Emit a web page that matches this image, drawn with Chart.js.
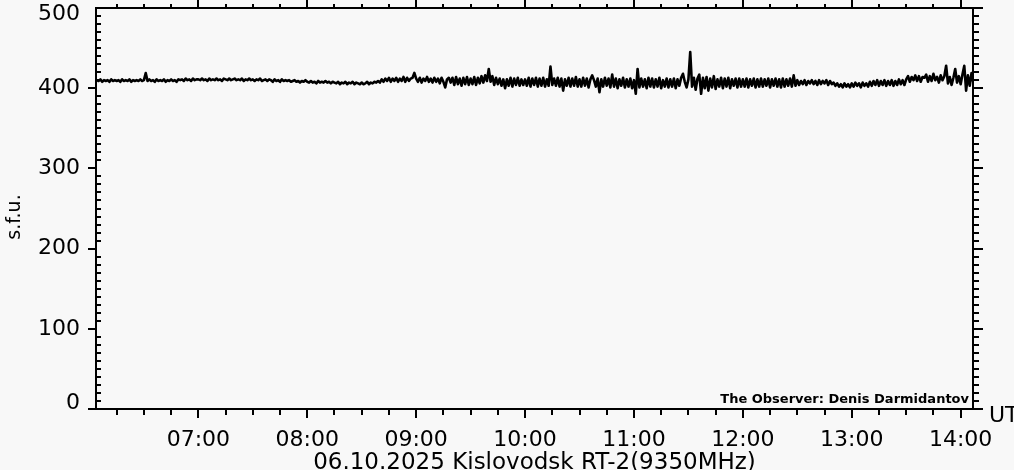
<!DOCTYPE html>
<html><head><meta charset="utf-8">
<script src="https://cdn.jsdelivr.net/npm/chart.js@4.4.1/dist/chart.umd.min.js"></script>
<style>html,body{margin:0;padding:0;background:#f8f8f8;overflow:hidden}canvas{display:block}</style>
</head><body>
<canvas id="c" width="1014" height="470"></canvas>
<script>
// Flux (s.f.u.), one value per minute, each array = one UT hour (minute 0..59)
const h06 = [410,409,410,408,410,409,411,408,410,409,
             410,408,411,409,410,409,410,408,411,409,
             410,409,411,408,410,409,410,409,411,409,
             410,419,409,411,409,410,408,411,409,410,
             409,411,408,410,409,411,409,410,408,411,
             410,411,409,412,410,411,409,412,410,411];
const h07 = [411,410,412,410,411,409,412,410,411,410,
             412,410,411,409,412,411,410,412,410,411,
             412,410,411,410,412,409,411,410,412,410,
             411,409,411,410,412,409,410,411,409,411,
             410,408,411,409,410,408,411,409,410,409,
             410,408,409,410,408,409,407,409,408,410];
const h08 = [408,407,409,407,408,406,409,407,408,407,
             409,407,408,406,408,407,406,408,405,407,
             406,408,405,407,406,408,405,407,406,405,
             407,405,406,408,405,407,406,408,407,409,
             407,411,408,412,409,413,408,412,409,413,
             408,412,409,414,408,413,409,412,413,419];
const h09 = [412,408,413,407,412,409,414,408,412,407,
             413,408,412,406,413,408,401,411,413,407,
             413,404,414,405,412,403,413,405,414,404,
             412,405,414,404,413,406,415,407,416,409,
             424,408,415,404,413,405,412,403,411,400,
             411,403,413,402,412,404,413,403,411,404];
const h10 = [411,403,413,402,412,404,413,402,412,403,
             413,402,411,403,427,404,412,403,413,402,
             412,397,411,403,413,402,412,403,414,402,
             411,402,413,403,412,401,411,416,410,402,
             412,395,411,402,413,403,412,401,417,402,
             412,400,411,403,413,401,411,402,412,400];
const h11 = [410,393,424,401,412,402,411,400,413,402,
             412,401,411,402,413,400,410,402,412,401,
             411,402,412,400,411,403,413,418,408,401,
             411,445,402,413,398,412,417,393,413,400,
             414,397,412,401,415,399,411,402,413,400,
             412,402,413,400,411,403,412,401,412,402];
const h12 = [411,402,412,401,411,403,412,401,411,402,
             412,402,411,403,412,401,411,403,412,402,
             411,401,412,402,411,403,412,402,416,403,
             410,404,409,405,410,404,409,406,410,405,
             409,404,410,405,409,406,410,404,409,405,
             407,403,406,402,405,401,406,402,405,401];
const h13 = [406,402,407,403,406,401,407,403,406,402,
             408,403,409,404,410,403,409,404,410,403,
             409,404,410,403,409,404,411,405,410,404,
             411,415,408,414,410,416,409,415,408,414,
             413,417,408,415,409,418,410,414,407,416,
             410,415,428,406,414,404,413,424,407,415];
const h14 = [405,417,428,397,416,403,419,407];

const hourStarts = [360,420,480,540,600,660,720,780,840]; // minutes of day
const yTickValues = [0,100,200,300,400,500];
const yTickLabels = ['0','100','200','300','400','500'];
const xTickMinutes = [420,480,540,600,660,720,780,840];
const xTickLabels = ['07:00','08:00','09:00','10:00','11:00','12:00','13:00','14:00'];
const xMin = 363.6, xMax = 846.8;
const yMin = 0, yMax = 500;
const yAxisTitle = 's.f.u.';
const xAxisTitle = '06.10.2025 Kislovodsk RT-2(9350MHz)';
const unitLabel = 'UT';
const observerNote = 'The Observer: Denis Darmidantov';

const series = [h06,h07,h08,h09,h10,h11,h12,h13,h14];
const points = [];
series.forEach((arr,k)=>arr.forEach((v,i)=>points.push({x:hourStarts[k]+i, y:v})));

const FONT = 'DejaVu Sans';

const frame = {
  id:'frame',
  beforeDraw(chart){
    const c = chart.ctx; c.save(); c.fillStyle='#f8f8f8';
    c.fillRect(0,0,chart.width,chart.height); c.restore();
  },
  afterDraw(chart){
    const {ctx, chartArea:a, scales:{x,y}} = chart;
    ctx.save();
    ctx.strokeStyle='#000'; ctx.lineWidth=2; ctx.lineCap='butt';
    ctx.beginPath();
    ctx.moveTo(a.left, a.top); ctx.lineTo(a.right, a.top);
    ctx.moveTo(a.left, a.bottom); ctx.lineTo(a.right, a.bottom);
    ctx.moveTo(a.left, a.top-1); ctx.lineTo(a.left, a.bottom+1);
    ctx.moveTo(a.right, a.top-1); ctx.lineTo(a.right, a.bottom+1);
    for (let v=yMin; v<=yMax; v+=10){
      const p = Math.round(y.getPixelForValue(v));
      if (v%100===0){
        if (v<yMax){ ctx.moveTo(a.left-8,p); ctx.lineTo(a.left,p); }
        ctx.moveTo(a.right,p); ctx.lineTo(a.right+10,p);
      } else {
        ctx.moveTo(a.left,p); ctx.lineTo(a.left+5,p);
        ctx.moveTo(a.right,p); ctx.lineTo(a.right+6,p);
      }
    }
    for (let m=375; m<=x.max; m+=15){
      const p = Math.round(x.getPixelForValue(m));
      const major = m%60===0;
      ctx.moveTo(p,a.bottom); ctx.lineTo(p,a.bottom+(major?9:6));
      ctx.moveTo(p,a.top); ctx.lineTo(p,a.top-(major?8:4));
    }
    ctx.stroke();
    ctx.fillStyle='#000';
    ctx.font='22px "'+FONT+'"'; ctx.textAlign='left'; ctx.textBaseline='alphabetic';
    ctx.fillText(unitLabel, 989, 422);
    ctx.font='bold 13px "'+FONT+'"'; ctx.textAlign='right';
    ctx.fillText(observerNote, a.right-4, 403);
    ctx.save();
    ctx.translate(15, 217); ctx.rotate(-Math.PI/2);
    ctx.font='19px "'+FONT+'"'; ctx.textAlign='center'; ctx.textBaseline='middle';
    ctx.fillText(yAxisTitle, 0, 0);
    ctx.restore();
    ctx.restore();
  }
};

new Chart(document.getElementById('c'), {
  type:'line',
  data:{datasets:[{data:points, borderColor:'#000', borderWidth:2.6, pointRadius:0, tension:0, fill:false, borderJoinStyle:'round'}]},
  options:{
    responsive:false, animation:false, devicePixelRatio:1,
    layout:{padding:{top:8,right:41,left:0,bottom:0}},
    plugins:{legend:{display:false}, tooltip:{enabled:false}},
    scales:{
      x:{
        type:'linear', min:xMin, max:xMax,
        grid:{display:false, drawTicks:false}, border:{display:false},
        afterBuildTicks:s=>{ s.ticks = xTickMinutes.map(v=>({value:v})); },
        afterFit:s=>{ s.height=61; s.paddingLeft=0; s.paddingRight=0; },
        ticks:{autoSkip:false, maxRotation:0, padding:18, color:'#000',
          font:{family:FONT, size:22},
          callback:(v)=>xTickLabels[xTickMinutes.indexOf(v)]},
        title:{display:true, text:xAxisTitle, color:'#000', padding:0,
          font:{family:FONT, size:23, lineHeight:'13px'}}
      },
      y:{
        type:'linear', min:yMin, max:yMax,
        grid:{display:false, drawTicks:false}, border:{display:false},
        afterBuildTicks:s=>{ s.ticks = yTickValues.map(v=>({value:v})); },
        afterFit:s=>{ s.width=96; s.paddingTop=0; s.paddingBottom=0; },
        ticks:{padding:16, color:'#000',
          font:(c)=>{
            const v = c.tick ? c.tick.value : null;
            return {family:FONT, size:22, lineHeight: v===500 ? '12px' : (v===0 ? '11px' : 1.2)};
          },
          callback:(v)=>{
            const t = yTickLabels[yTickValues.indexOf(v)];
            return v===500 ? ['',t] : (v===0 ? [t,''] : t);
          }},
        title:{display:false, text:yAxisTitle}
      }
    }
  },
  plugins:[frame]
});
</script>
</body></html>
